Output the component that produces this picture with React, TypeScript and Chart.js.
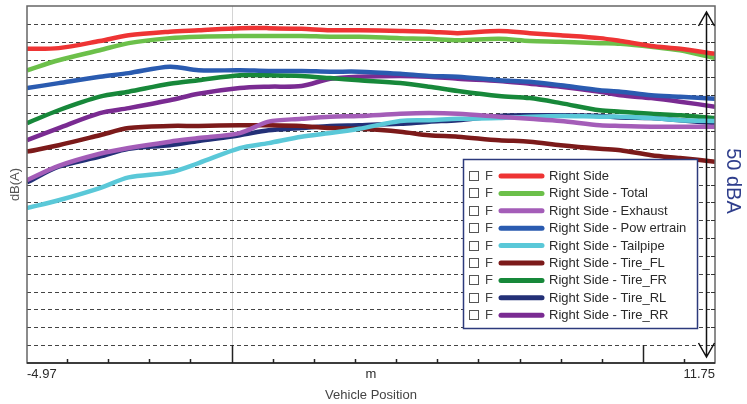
import { useEffect, useRef } from 'react';
import { Chart, registerables } from 'chart.js';
Chart.register(...registerables);

// Vehicle position (m)
const positions = [-4.97, -4.2, -3.2, -2.5, -1.5, -0.8, 0.2, 0.9, 1.7, 2.4, 3.1, 4.1, 4.8, 5.5, 6.5, 7.25, 8.0, 8.95, 9.45, 10.2, 10.9, 11.75];

// Levels in dB(A)
const rightSide = [84.0, 84.1, 85.1, 85.9, 86.4, 86.6, 86.9, 86.9, 86.8, 86.6, 86.6, 86.5, 86.4, 86.2, 86.5, 86.2, 85.9, 85.5, 85.1, 84.4, 84.0, 83.3];
const rightTotal = [81.0, 82.4, 83.8, 84.8, 85.5, 85.7, 85.8, 85.8, 85.8, 85.7, 85.7, 85.5, 85.4, 85.2, 85.4, 85.1, 85.0, 84.8, 84.7, 84.3, 83.8, 82.7];
const rightExhaust = [65.6, 67.6, 69.3, 70.1, 71.0, 71.5, 72.2, 73.8, 74.2, 74.5, 74.6, 74.9, 75.0, 74.9, 74.5, 74.2, 73.9, 73.3, 73.2, 73.1, 73.1, 73.1];
const rightPowertrain = [78.5, 79.2, 80.1, 80.6, 81.5, 81.0, 81.0, 80.9, 80.9, 80.8, 80.8, 80.5, 80.2, 80.1, 79.6, 79.4, 78.9, 78.2, 78.0, 77.5, 77.3, 77.0];
const rightTailpipe = [61.7, 62.8, 64.5, 66.0, 66.7, 68.0, 70.1, 70.8, 71.7, 72.2, 72.8, 73.9, 74.0, 74.2, 74.3, 74.5, 74.6, 74.5, 74.5, 74.3, 74.0, 73.9];
const rightTireFL = [69.6, 70.5, 71.9, 72.9, 73.2, 73.2, 73.3, 73.3, 73.2, 72.9, 72.8, 72.4, 71.9, 71.7, 71.2, 71.0, 70.5, 70.0, 69.8, 69.1, 68.7, 68.2];
const rightTireFR = [73.6, 75.4, 77.3, 78.0, 79.1, 79.6, 80.3, 80.3, 80.2, 79.9, 79.6, 79.2, 78.7, 78.1, 77.4, 77.1, 76.4, 75.4, 75.2, 74.9, 74.7, 74.3];
const rightTireRL = [65.3, 67.5, 68.9, 70.0, 70.5, 71.1, 71.9, 72.6, 72.9, 73.2, 73.3, 73.5, 73.8, 74.0, 74.6, 74.7, 74.7, 74.6, 74.4, 74.3, 74.0, 73.6];
const rightTireRR = [71.2, 72.9, 75.0, 75.7, 76.8, 77.7, 78.5, 78.7, 78.8, 79.8, 80.1, 80.2, 80.1, 79.8, 79.5, 79.1, 78.7, 78.0, 77.5, 77.1, 76.6, 75.9];

const seriesLabels = ['Right Side', 'Right Side - Total', 'Right Side - Exhaust', 'Right Side - Pow ertrain', 'Right Side - Tailpipe', 'Right Side - Tire_FL', 'Right Side - Tire_FR', 'Right Side - Tire_RL', 'Right Side - Tire_RR'];
const seriesValues = [rightSide, rightTotal, rightExhaust, rightPowertrain, rightTailpipe, rightTireFL, rightTireFR, rightTireRL, rightTireRR];
const seriesColors = ['#ee3434', '#6cc04a', '#a45db8', '#2a5bb0', '#5ac8d8', '#7c1a1a', '#17883a', '#233077', '#7a2b92'];

const xTickValues = [-4.97, 3.39, 11.75];
const xTickLabels = ['-4.97', 'm', '11.75'];
const minorTickValues = [-4, -3, -2, -1, 0, 1, 2, 3, 4, 5, 6, 7, 8, 9, 10, 11];
const majorTickValues = [0, 10];
const rangeLabel = '50 dBA';

const FONT = '"Liberation Sans", Arial, sans-serif';

const gridPlugin = {
  id: 'gridUnder',
  beforeDatasetsDraw(chart: any) {
    const { ctx, chartArea: a, scales } = chart;
    const x = scales.x, y = scales.y;
    ctx.save();
    ctx.strokeStyle = '#d4d4d4';
    ctx.lineWidth = 1;
    const x0 = Math.round(x.getPixelForValue(0)) + 0.5;
    ctx.beginPath();
    ctx.moveTo(x0, a.top);
    ctx.lineTo(x0, a.bottom);
    ctx.stroke();
    ctx.strokeStyle = '#444';
    ctx.setLineDash([4, 3]);
    y.ticks.forEach((t: any) => {
      if (t.value <= y.min || t.value >= y.max) return;
      const py = Math.round(y.getPixelForValue(t.value)) + 0.5;
      ctx.beginPath();
      ctx.moveTo(a.left, py);
      ctx.lineTo(a.right, py);
      ctx.stroke();
    });
    ctx.restore();
  },
};

const overlayPlugin = {
  id: 'overlay',
  afterDatasetsDraw(chart: any) {
    const { ctx, chartArea: a, scales } = chart;
    const x = scales.x, y = scales.y;
    ctx.save();
    ctx.strokeStyle = '#666';
    ctx.lineWidth = 1.5;
    ctx.strokeRect(a.left, a.top, a.right - a.left, a.bottom - a.top);
    ctx.strokeStyle = '#222';
    ctx.beginPath();
    ctx.moveTo(a.left, a.bottom);
    ctx.lineTo(a.right, a.bottom);
    ctx.stroke();
    ctx.lineWidth = 1.5;
    minorTickValues.forEach((v) => {
      const px = Math.round(x.getPixelForValue(v)) + 0.5;
      const len = majorTickValues.includes(v) ? 18 : 4;
      ctx.beginPath();
      ctx.moveTo(px, a.bottom);
      ctx.lineTo(px, a.bottom - len);
      ctx.stroke();
    });
    ctx.lineWidth = 1;
    ctx.strokeStyle = '#333';
    y.ticks.forEach((t: any) => {
      if (t.value <= y.min || t.value >= y.max) return;
      const py = Math.round(y.getPixelForValue(t.value)) + 0.5;
      ctx.beginPath();
      ctx.moveTo(a.right - 4, py);
      ctx.lineTo(a.right, py);
      ctx.stroke();
    });

    // legend box
    const lx = 463.5, ly = 159.5, lw = 234, lh = 169;
    ctx.fillStyle = '#ffffff';
    ctx.fillRect(lx, ly, lw, lh);
    ctx.strokeStyle = '#2c3a7c';
    ctx.lineWidth = 1.5;
    ctx.strokeRect(lx, ly, lw, lh);
    const dsets = chart.data.datasets;
    ctx.font = '13px ' + FONT;
    ctx.textBaseline = 'middle';
    dsets.forEach((ds: any, i: number) => {
      const cy = 176 + i * 17.4;
      ctx.strokeStyle = '#555';
      ctx.lineWidth = 1;
      ctx.fillStyle = '#fff';
      ctx.fillRect(469.5, Math.round(cy) - 4.5, 9, 9);
      ctx.strokeRect(469.5, Math.round(cy) - 4.5, 9, 9);
      ctx.fillStyle = '#444';
      ctx.textAlign = 'left';
      ctx.fillText('F', 485, cy + 0.5);
      ctx.strokeStyle = ds.borderColor;
      ctx.lineWidth = 5;
      ctx.lineCap = 'round';
      ctx.beginPath();
      ctx.moveTo(501, cy);
      ctx.lineTo(542, cy);
      ctx.stroke();
      ctx.lineCap = 'butt';
      ctx.fillStyle = '#2a2a2a';
      ctx.fillText(ds.label, 549, cy + 0.5);
    });

    // range arrow
    const ax = 706.5;
    const top = 12, bot = 357;
    ctx.strokeStyle = '#111';
    ctx.lineWidth = 1.5;
    ctx.beginPath();
    ctx.moveTo(ax, top);
    ctx.lineTo(ax, bot);
    ctx.moveTo(ax - 8, top + 14);
    ctx.lineTo(ax, top);
    ctx.lineTo(ax + 8, top + 14);
    ctx.moveTo(ax - 8, bot - 14);
    ctx.lineTo(ax, bot);
    ctx.lineTo(ax + 8, bot - 14);
    ctx.stroke();

    ctx.translate(733, 181);
    ctx.rotate(Math.PI / 2);
    ctx.fillStyle = '#2f3e8c';
    ctx.font = '20px ' + FONT;
    ctx.textAlign = 'center';
    ctx.textBaseline = 'middle';
    ctx.fillText(rangeLabel, 0, 0);
    ctx.restore();
  },
};

export default function App() {
  const ref = useRef<HTMLCanvasElement | null>(null);
  useEffect(() => {
    if (!ref.current) return;
    const chart = new Chart(ref.current, {
      type: 'line',
      data: {
        datasets: seriesLabels.map((label, i) => ({
          label,
          data: positions.map((p, j) => ({ x: p, y: seriesValues[i][j] })),
          borderColor: seriesColors[i],
          backgroundColor: seriesColors[i],
          borderWidth: 4.5,
          pointRadius: 0,
          tension: 0.3,
          fill: false,
        })),
      },
      options: {
        responsive: false,
        maintainAspectRatio: false,
        animation: false,
        layout: { padding: { left: 0, right: 32, top: 6, bottom: 0 } },
        plugins: { legend: { display: false }, tooltip: { enabled: false } },
        scales: {
          x: {
            type: 'linear',
            min: -4.97,
            max: 11.75,
            afterBuildTicks: (scale: any) => {
              scale.ticks = xTickValues.map((v) => ({ value: v }));
            },
            ticks: {
              align: 'inner',
              padding: 4,
              maxRotation: 0,
              autoSkip: false,
              color: '#2a2a2a',
              font: { family: FONT, size: 13 },
              callback: (_v: any, i: number) => xTickLabels[i],
            },
            grid: { display: false, drawTicks: false },
            border: { display: false },
            title: {
              display: true,
              text: 'Vehicle Position',
              color: '#444',
              font: { family: FONT, size: 13 },
              padding: { top: 0.6, bottom: 1.2 },
            },
          },
          y: {
            type: 'linear',
            min: 40,
            max: 90,
            ticks: { display: false, stepSize: 2.5 },
            grid: { display: false, drawTicks: false },
            border: { display: false },
            title: {
              display: true,
              text: 'dB(A)',
              color: '#555',
              font: { family: FONT, size: 13 },
              padding: { top: 7.7, bottom: 3.7 },
            },
          },
        },
      },
      plugins: [gridPlugin, overlayPlugin],
    });
    return () => chart.destroy();
  }, []);
  return (
    <div style={{ position: 'fixed', left: 0, top: 0, width: 747, height: 404, background: '#fff' }}>
      <canvas ref={ref} width={747} height={404} style={{ display: 'block' }} />
    </div>
  );
}
